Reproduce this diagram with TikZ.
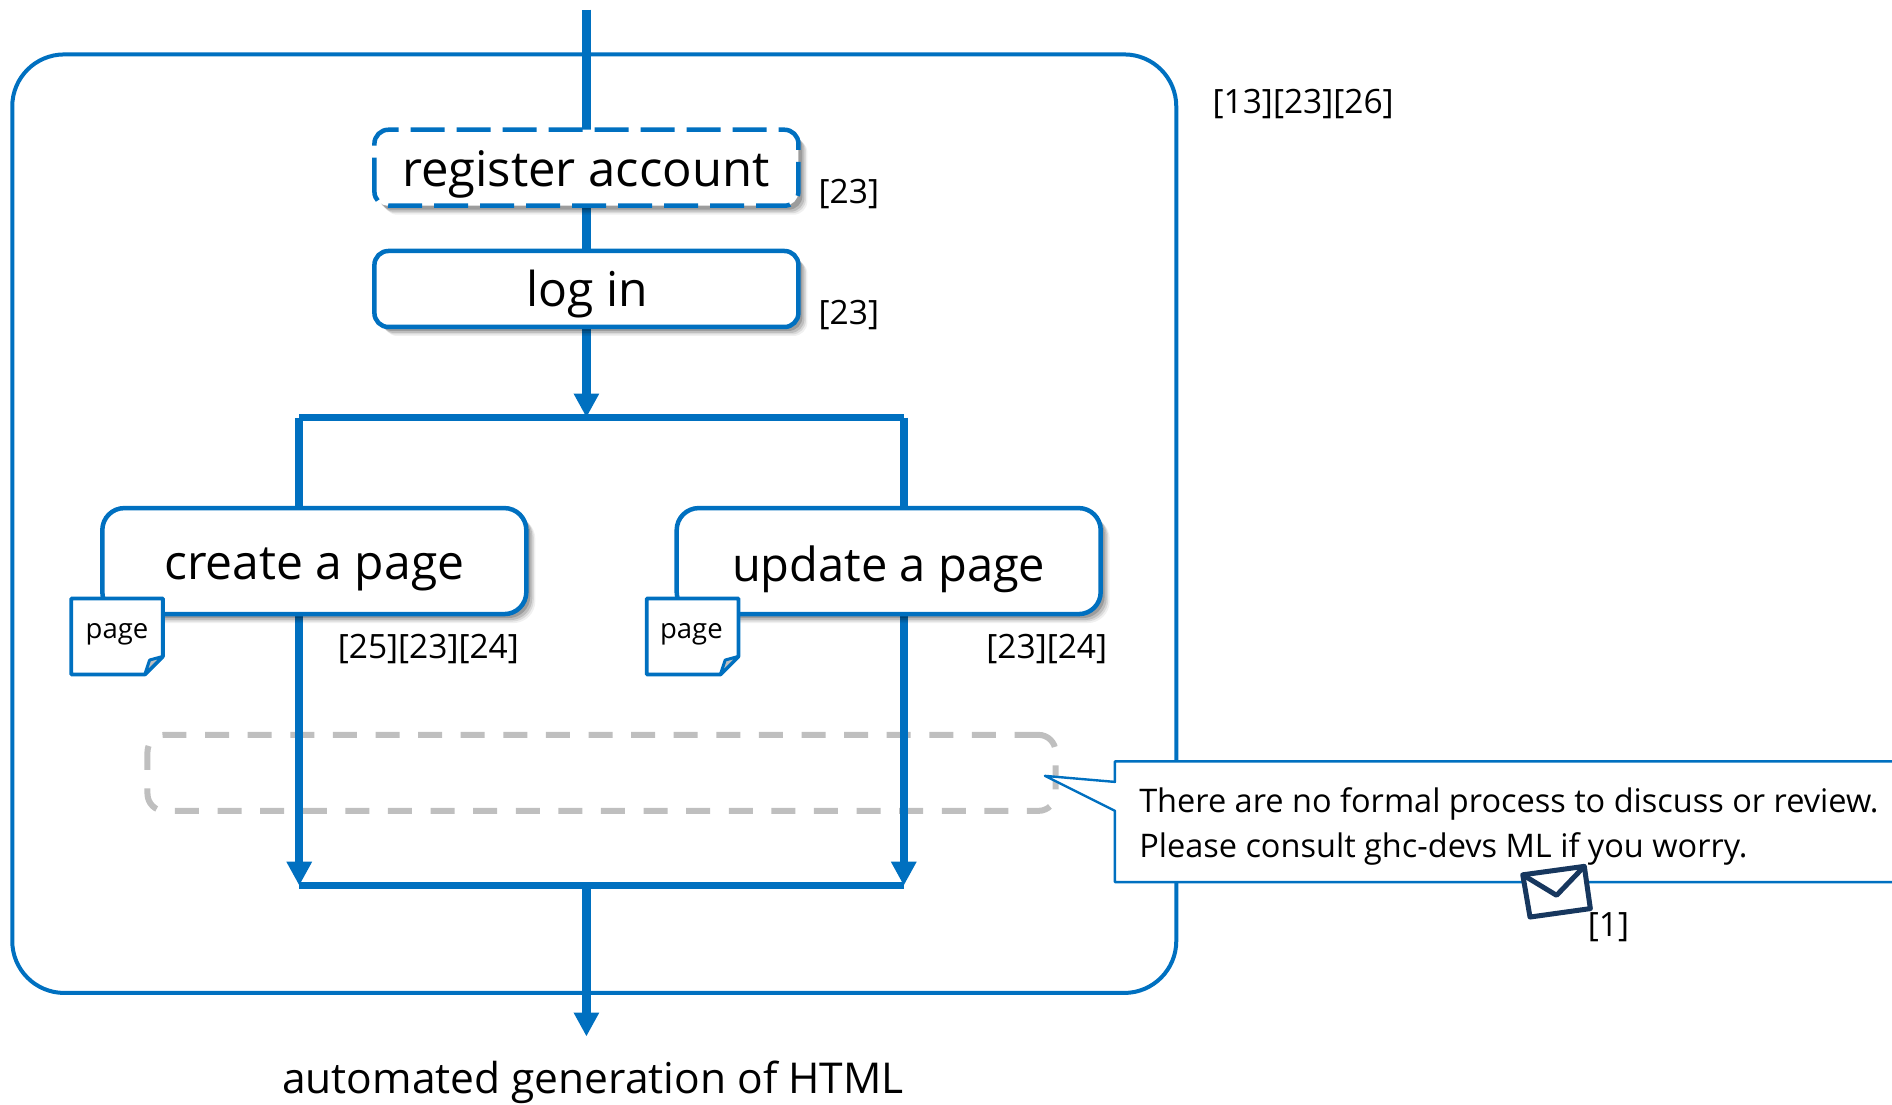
\documentclass[tikz,border=0pt]{standalone}
\usepackage{fontspec}
\setmainfont{Open Sans}
\usetikzlibrary{arrows.meta,backgrounds,shadows}
\definecolor{mainblue}{HTML}{0070C0}
\definecolor{navy}{HTML}{17375E}
\definecolor{dashgrey}{HTML}{BFBFBF}
\newcommand{\fs}[1]{\fontsize{#1}{#1}\selectfont}
\tikzset{
  softshadow/.style={
    drop shadow={shadow xshift=9pt,shadow yshift=-9pt,opacity=.06,fill=black},
    drop shadow={shadow xshift=7.5pt,shadow yshift=-7.5pt,opacity=.09,fill=black},
    drop shadow={shadow xshift=6pt,shadow yshift=-6pt,opacity=.13,fill=black},
    drop shadow={shadow xshift=4pt,shadow yshift=-4pt,opacity=.18,fill=black}},
  flowbox/.style={rectangle,rounded corners=14pt,draw=mainblue,line width=4.5pt,fill=white,
    minimum width=424pt,minimum height=76pt,inner sep=0pt,outer sep=0pt,text=black,softshadow},
  pagebox/.style={flowbox,rounded corners=22pt,minimum height=106pt},
  thickflow/.style={draw=mainblue,line width=8.5pt},
  thinflow/.style={draw=mainblue,line width=7.5pt},
  flowarrow/.style={thickflow,-{Triangle[length=24pt,width=24pt]}},
  refnote/.style={font=\fs{33.5},text=black,inner sep=0pt},
  docline/.style={draw=mainblue,line width=3.8pt,line join=round,fill=white},
  doctext/.style={font=\fs{27.5},text=black,inner sep=0pt},
  boxtext/.style={text=black,inner sep=0pt},
}
\begin{document}
\begin{tikzpicture}[x=1.2066pt,y=-1.2066pt]
\useasboundingbox (0,0) rectangle (1568,915);

% flow nodes
\node[flowbox,draw=none] (reg) at (486,139) {};
\node[flowbox] (login) at (486,239.5) {};
\node[pagebox] (create) at (260.5,465) {};
\node[pagebox] (update) at (736.5,465) {};

\coordinate (topin) at (486,8);
\coordinate (barTL) at (248,346);
\coordinate (barTR) at (749,346);
\coordinate (barTM) at (486,346);
\coordinate (barBL) at (248,734);
\coordinate (barBR) at (749,734);
\coordinate (barBM) at (486,734);
\coordinate (outend) at (486,859);

\begin{pgfonlayer}{background}
  \node[draw=mainblue,line width=4pt,rounded corners=52pt,minimum width=1164pt,minimum height=938.5pt,inner sep=0pt,outer sep=0pt] (outer) at (492.5,434) {};
  \node[draw=dashgrey,line width=6pt,dash pattern=on 24pt off 18.6pt,rounded corners=17pt,minimum width=908pt,minimum height=76pt,inner sep=0pt,outer sep=0pt] (review) at (498.5,640.5) {};
  \draw[thickflow] (topin) -- (reg.north);
  \draw[thickflow] (reg.south) -- (login.north);
  \draw[flowarrow] (login.south) -- (barTM);
  \draw[thinflow] (barTL) -- (barTR);
  \draw[thinflow] (barTL) -- (barTL |- create.north);
  \draw[thinflow] (barTR) -- (barTR |- update.north);
  \draw[flowarrow] (barTL |- create.south) -- (barBL);
  \draw[flowarrow] (barTR |- update.south) -- (barBR);
  \draw[thinflow,line width=6.5pt] (barBL) -- (barBR);
  \draw[flowarrow] (barBM) -- (outend);
\end{pgfonlayer}

% register box outline, drawn dashed over its white fill
\draw[draw=mainblue,line width=4.5pt,dash pattern=on 34pt off 12pt,rounded corners=14pt] (reg.south west) rectangle (reg.north east);
\node[boxtext,font=\fs{49}] (regtext) at (485.5,144.5) {register account};
\node[boxtext,font=\fs{48}] (logintext) at (486.5,244) {log in};
\node[boxtext,font=\fs{48}] (createtext) at (260.5,472) {create a page};
\node[boxtext,font=\fs{47}] (updatetext) at (736.5,471.5) {update a page};

% page documents
\draw[docline] (59,496) -- (135,496) -- (135,544) -- (120,559) -- (59,559) -- cycle;
\draw[draw=mainblue,line width=3pt,line join=round,fill=dashgrey] (135,544) -- (124,547) -- (120,559) -- cycle;
\node[doctext] (page1) at (97,526) {page};
\draw[docline] (536,496) -- (612,496) -- (612,544) -- (597,559) -- (536,559) -- cycle;
\draw[draw=mainblue,line width=3pt,line join=round,fill=dashgrey] (612,544) -- (601,547) -- (597,559) -- cycle;
\node[doctext] (page2) at (573,526) {page};

% callout
\fill[white] (866,643) -- (924,648) -- (924,631) -- (1568,631) -- (1568,731) -- (924,731) -- (924,672) -- cycle;
\draw[draw=mainblue,line width=2.4pt,line join=round] (1568,631) -- (924,631) -- (924,648) -- (866,643) -- (924,672) -- (924,731) -- (1568,731);
\node[anchor=west,align=left,font=\fontsize{32.5}{45}\selectfont,text=black,inner sep=0pt] (calltext) at (944,685) {There are no formal process to discuss or review.\\Please consult ghc-devs ML if you worry.};

% envelope
\draw[draw=navy,line width=5pt,line join=round,fill=white] (1262,725) -- (1313,718) -- (1318,753) -- (1268,760) -- cycle;
\draw[draw=navy,line width=5pt,line join=round] (1262,725) -- (1290,742) -- (1313,718);

% labels
\node[refnote] (ref1) at (1080,86) {[13][23][26]};
\node[refnote] (ref2) at (703.5,161) {[23]};
\node[refnote] (ref3) at (703.5,261) {[23]};
\node[refnote] (ref4) at (355,537.5) {[25][23][24]};
\node[refnote] (ref5) at (867.5,537.5) {[23][24]};
\node[refnote] (ref6) at (1333,768) {[1]};
\node[font=\fs{42.5},text=black,inner sep=0pt] (htmlnote) at (491.5,897) {automated generation of HTML};
\end{tikzpicture}
\end{document}
